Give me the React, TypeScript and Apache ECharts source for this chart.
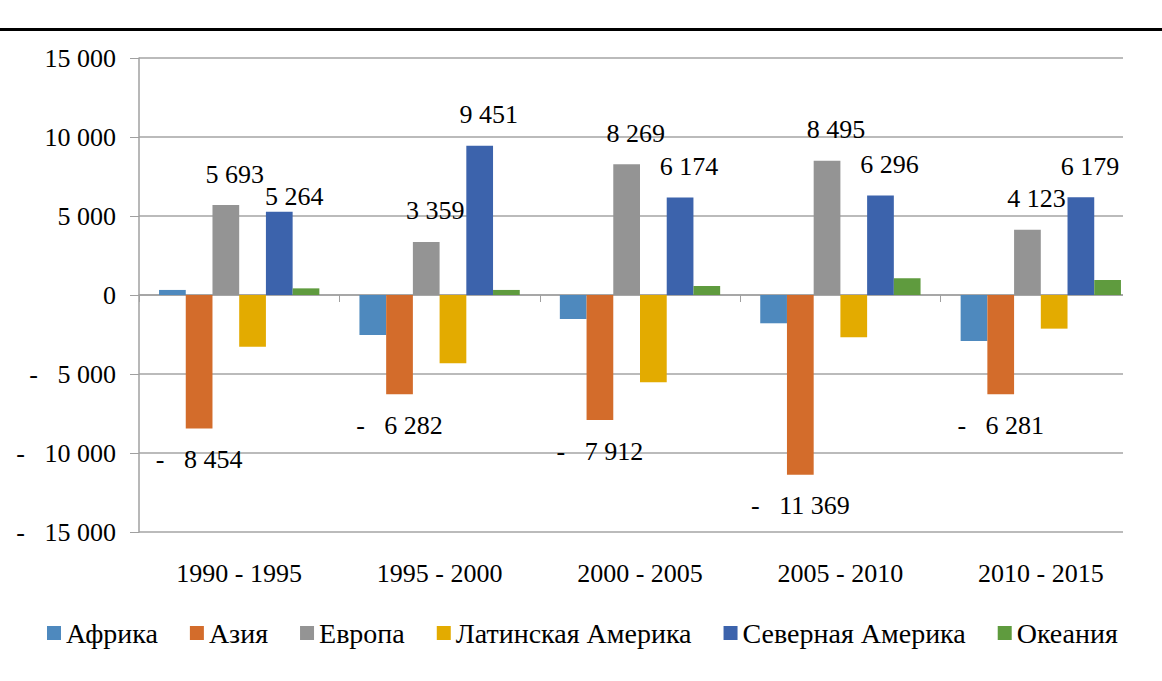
import React, { useEffect, useRef } from "react";
import * as echarts from "echarts";

const categories = ["1990 - 1995", "1995 - 2000", "2000 - 2005", "2005 - 2010", "2010 - 2015"];
const seriesNames = ["Африка", "Азия", "Европа", "Латинская Америка", "Северная Америка", "Океания"];
const africa = [320, -2530, -1520, -1790, -2910];
const asia = [-8454, -6282, -7912, -11369, -6281];
const europe = [5693, 3359, 8269, 8495, 4123];
const latinAmerica = [-3270, -4320, -5520, -2680, -2130];
const northAmerica = [5264, 9451, 6174, 6296, 6179];
const oceania = [420, 320, 570, 1060, 950];
const yTicks = { min: -15000, max: 15000, interval: 5000 };

const colors = ["#4E89BE", "#D36C2B", "#949494", "#E3AB00", "#3C63AC", "#5F9B3E"];
const FONT = "'Times New Roman', 'Liberation Serif', serif";

function fmt(v: number): string {
  const s = Math.round(Math.abs(v)).toString();
  return s.replace(/\B(?=(\d{3})+(?!\d))/g, " ");
}
function acc(v: number): string {
  if (v < 0) return "-   " + fmt(v);
  return fmt(v);
}

export default function App() {
  const ref = useRef<HTMLDivElement>(null);
  useEffect(() => {
    if (!ref.current) return;
    const chart = echarts.init(ref.current, undefined, { renderer: "svg" });
    const allData: any[][] = [africa, asia, europe, latinAmerica, northAmerica, oceania];
    const baseLabel = {
      show: true,
      formatter: (p: any) => acc(p.value),
      color: "#000",
      fontFamily: FONT,
      fontWeight: "normal",
      fontStyle: "normal",
      fontSize: 26,
    };
    const labelled: Record<number, any> = {
      1: { ...baseLabel, position: "bottom", distance: 18 },
      2: { ...baseLabel, position: "top", distance: 18, offset: [9, 0] },
      4: { ...baseLabel, position: "top", distance: 18, offset: [9, 0] },
    };
    const seriesData = allData.map((arr, i) =>
      arr.map((v: number, j: number) =>
        i === 4 && j === 0 ? { value: v, label: { distance: 2, offset: [15, 0] } } : v
      )
    );
    chart.setOption({
      animation: false,
      color: colors,
      textStyle: { fontFamily: FONT, fontWeight: "normal" },
      grid: { left: 139, top: 58, width: 1002, height: 474 },
      legend: {
        data: seriesNames,
        left: 42,
        top: 614,
        itemWidth: 14,
        itemHeight: 14,
        itemGap: 32,
        icon: "rect",
        textStyle: { fontFamily: FONT, fontWeight: "normal", fontSize: 28, color: "#000" },
      },
      xAxis: [
        {
          type: "category",
          data: categories,
          position: "bottom",
          axisLine: { show: false, onZero: false },
          axisTick: { show: false },
          splitLine: { show: false },
          axisLabel: { fontFamily: FONT, fontWeight: "normal", fontSize: 26, color: "#000", margin: 28 },
        },
        {
          type: "category",
          data: categories,
          position: "bottom",
          axisLine: { show: true, onZero: true, lineStyle: { color: "#A0A0A0", width: 1.5 } },
          axisTick: { show: true, length: 7, lineStyle: { color: "#A0A0A0" } },
          axisLabel: { show: false },
        },
      ],
      yAxis: {
        type: "value",
        min: yTicks.min,
        max: yTicks.max,
        interval: yTicks.interval,
        axisLine: { show: true, lineStyle: { color: "#A0A0A0", width: 1.5 } },
        axisTick: { show: true, length: 9, lineStyle: { color: "#A0A0A0" } },
        splitLine: { show: true, lineStyle: { color: "#A5A5A5", width: 1.5 } },
        axisLabel: {
          fontFamily: FONT,
          fontWeight: "normal",
          fontSize: 26,
          color: "#000",
          margin: 23,
          formatter: (v: number) => acc(v),
        },
      },
      series: seriesNames.map((name, i) => ({
        name,
        type: "bar",
        xAxisIndex: 0,
        data: seriesData[i],
        barGap: "0%",
        barCategoryGap: "20%",
        label: labelled[i] || { show: false },
        z: 3,
      })),
      graphic: [
        {
          type: "rect",
          left: 1123,
          top: 45,
          shape: { width: 39, height: 500 },
          style: { fill: "#fff" },
          z: 100,
        },
        {
          type: "rect",
          left: 0,
          top: 28,
          shape: { width: 1162, height: 3 },
          style: { fill: "#000" },
          z: 100,
        },
      ],
    });
    return () => chart.dispose();
  }, []);
  return (
    <div
      ref={ref}
      style={{ position: "fixed", left: 0, top: 0, width: 1162, height: 681, background: "#fff" }}
    />
  );
}
